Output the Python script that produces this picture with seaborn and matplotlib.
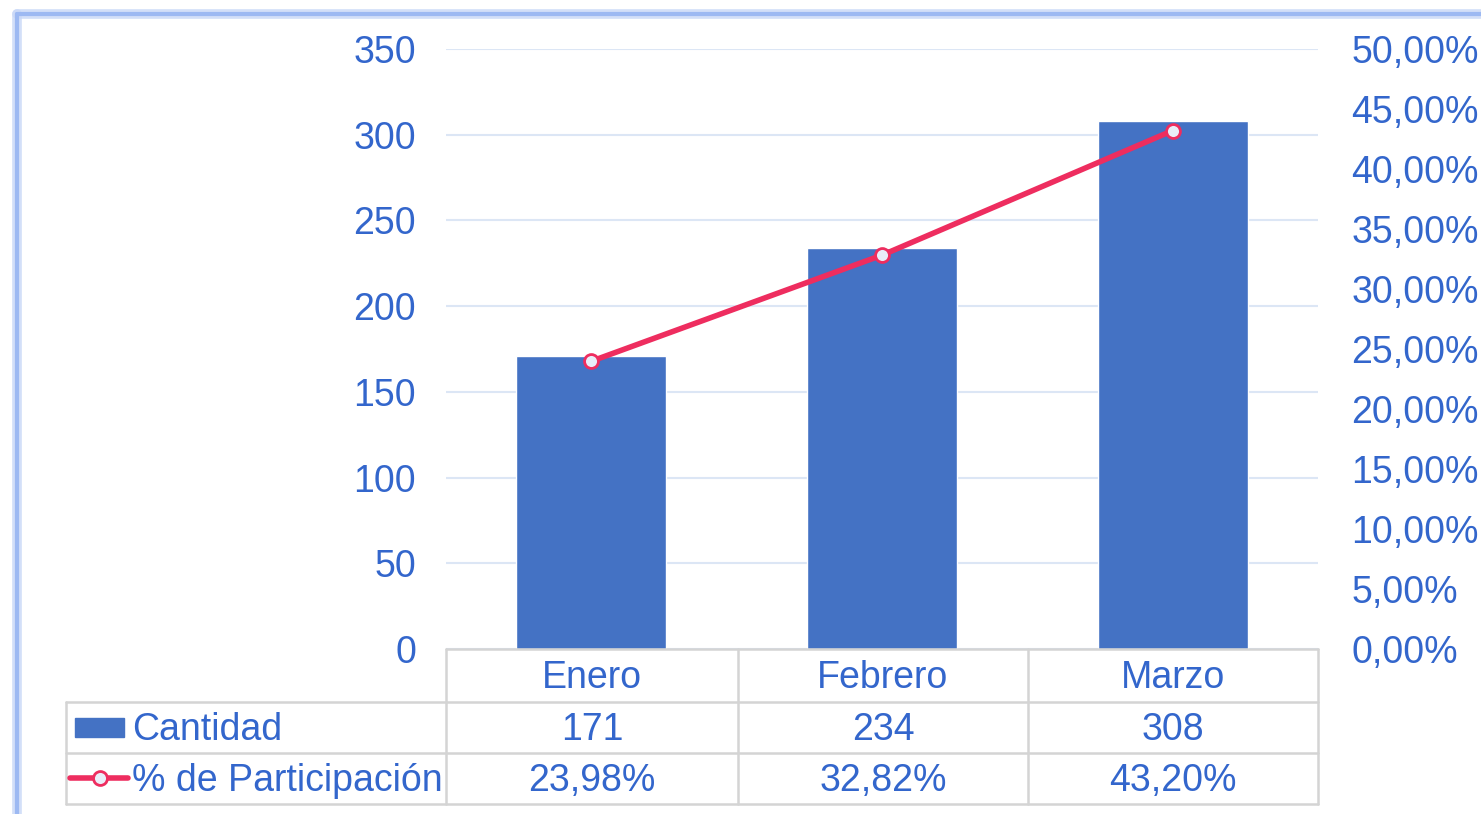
import matplotlib
matplotlib.use("Agg")
import matplotlib.pyplot as plt
import seaborn as sns
import numpy as np
import pandas as pd
from matplotlib.lines import Line2D
from matplotlib.patches import Rectangle

# Data
meses = ["Enero", "Febrero", "Marzo"]
cantidad = [171, 234, 308]
participacion = [23.98, 32.82, 43.20]
serie_barras = "Cantidad"
serie_linea = "% de Participación"

BLUE = "#4472C4"
TEXT = "#3366CC"
PINK = "#EE2D5F"
GRID = "#DCE6F5"
TABLE = "#D4D4D4"

W, H = 1481, 814
sns.set_theme(style="white")
plt.rcParams["font.family"] = ["Liberation Sans", "DejaVu Sans"]

fig = plt.figure(figsize=(W / 100, H / 100), dpi=100)


def fx(x):
    return x / W


def fy(y):
    return 1 - y / H


# outer frame
for lw, c, a in [(7, "#C9D8F7", 0.8), (3, "#9DB9F2", 1.0)]:
    fig.add_artist(Line2D([fx(17), 1.0], [fy(14), fy(14)], color=c, lw=lw, alpha=a,
                          transform=fig.transFigure))
    fig.add_artist(Line2D([fx(17), fx(17)], [fy(14), 0.0], color=c, lw=lw, alpha=a,
                          transform=fig.transFigure))

x0, x1, ytop, ybot = 446, 1318, 49, 649
ax = fig.add_axes([fx(x0), fy(ybot), (x1 - x0) / W, (ybot - ytop) / H])

df = pd.DataFrame({"mes": meses, "cantidad": cantidad, "pct": participacion})
sns.barplot(data=df, x="mes", y="cantidad", color=BLUE, saturation=1, width=0.515, ax=ax)
ax.set_ylim(0, 350)
ax.set_yticks(np.arange(0, 351, 50))
ax.set_xlim(-0.5, 2.5)
ax.set_xticks([])
ax.set_xlabel("")
ax.set_ylabel("")
ax.grid(axis="y", color=GRID, lw=1.5)
ax.set_axisbelow(True)
for s in ax.spines.values():
    s.set_visible(False)
ax.tick_params(axis="y", length=0, pad=21.5, labelsize=27, labelcolor=TEXT)

ax2 = ax.twinx()
sns.lineplot(x=np.arange(len(meses)), y=df["pct"], ax=ax2, color=PINK, lw=4,
             marker="o", markersize=10, markerfacecolor="#E9EDF8",
             markeredgecolor=PINK, markeredgewidth=2)
ax2.set_ylim(0, 50)
ax2.set_yticks(np.arange(0, 51, 5))
ax2.set_yticklabels([f"{v:.2f}%".replace(".", ",") for v in np.arange(0, 51, 5)])
ax2.set_ylabel("")
for s in ax2.spines.values():
    s.set_visible(False)
ax2.tick_params(axis="y", length=0, pad=24, labelsize=27, labelcolor=TEXT)

# data table
tfont = dict(fontsize=27, color=TEXT)
cols = [446, 738, 1028, 1318]
rows = [649, 702, 753, 804]


def hline(xa, xb, y):
    fig.add_artist(Line2D([fx(xa), fx(xb)], [fy(y), fy(y)], color=TABLE, lw=1.8,
                          transform=fig.transFigure))


def vline(x, ya, yb):
    fig.add_artist(Line2D([fx(x), fx(x)], [fy(ya), fy(yb)], color=TABLE, lw=1.8,
                          transform=fig.transFigure))


hline(cols[0], cols[-1], rows[0])
for y in rows[1:]:
    hline(66, cols[-1], y)
for x in cols:
    vline(x, rows[0], rows[-1])
vline(66, rows[1], rows[-1])

for i, m in enumerate(meses):
    cx = (cols[i] + cols[i + 1]) / 2
    fig.text(fx(cx), fy((rows[0] + rows[1]) / 2 + 3), m, ha="center", va="center", **tfont)
    fig.text(fx(cx), fy((rows[1] + rows[2]) / 2 + 3), str(cantidad[i]), ha="center",
             va="center", **tfont)
    fig.text(fx(cx), fy((rows[2] + rows[3]) / 2 + 3),
             f"{participacion[i]:.2f}%".replace(".", ","), ha="center", va="center", **tfont)

# legend keys inside the table
fig.add_artist(Rectangle((fx(75), fy(737)), (124 - 75) / W, 19 / H, color=BLUE,
                         transform=fig.transFigure))
fig.add_artist(Line2D([fx(70), fx(128)], [fy(778), fy(778)], color=PINK, lw=4,
                      transform=fig.transFigure))
fig.add_artist(Line2D([fx(100)], [fy(778)], color=PINK, marker="o", markersize=10,
                      markerfacecolor="#E9EDF8", markeredgewidth=2,
                      transform=fig.transFigure))
fig.text(fx(132), fy(730), serie_barras, ha="left", va="center", **tfont)
fig.text(fx(132), fy(781), serie_linea, ha="left", va="center", **tfont)

fig.savefig("out.png", dpi=100)
